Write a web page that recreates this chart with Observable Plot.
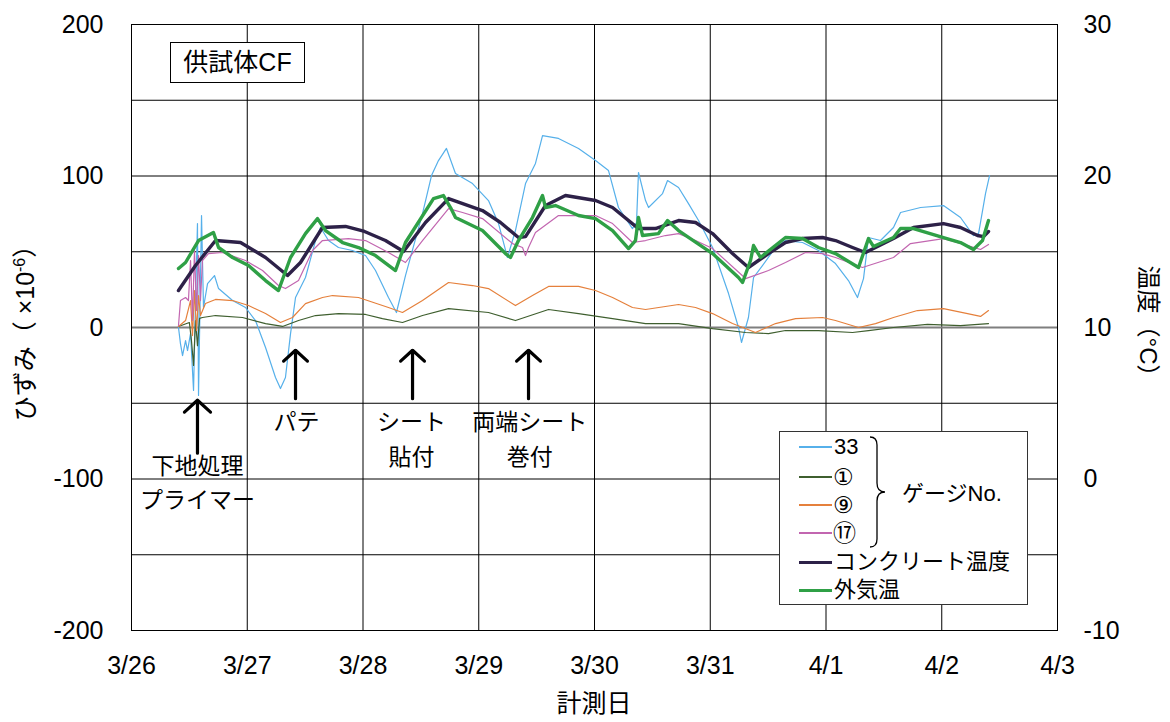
<!DOCTYPE html>
<html><head><meta charset="utf-8">
<script src="https://cdn.jsdelivr.net/npm/d3@7"></script>
<script src="https://cdn.jsdelivr.net/npm/@observablehq/plot@0.6"></script>
<style>
  body{margin:0;background:#fff;}
  #wrap{position:relative;width:1170px;height:722px;font-family:'Liberation Sans','Noto Sans CJK JP',sans-serif;}
  .ov{position:absolute;color:#000;white-space:nowrap;}
</style></head>
<body><div id="wrap"></div>
<script>
// ---- data (x = days since 3/26 0:00) ----
const dayLabels = ["3/26","3/27","3/28","3/29","3/30","3/31","4/1","4/2","4/3"];
const strainTicks = [-200,-100,0,100,200];
const tempTicks = [-10,0,10,20,30];

// strain gauges (×10^-6)
const gauge33 = [[0.406,0],[0.423,-10.6],[0.441,-18.5],[0.467,-8.6],[0.484,-15.2],[0.510,-4.0],[0.536,-41.6],[0.553,17.8],[0.570,68.6],[0.579,-44.9],[0.605,73.9],[0.622,13.2],[0.657,29.0],[0.717,34.3],[0.752,25.7],[0.873,17.8],[0.985,13.2],[1.071,4.6],[1.158,-13.2],[1.244,-33.0],[1.287,-40.3],[1.330,-33.0],[1.374,-4.0],[1.417,19.8],[1.503,33.0],[1.590,57.4],[1.633,66.0],[1.702,57.4],[1.788,52.8],[1.909,50.8],[2.022,47.5],[2.108,37.6],[2.220,19.8],[2.289,9.9],[2.367,34.3],[2.514,75.2],[2.592,100.3],[2.652,110.2],[2.721,118.2],[2.799,101.7],[2.946,95.0],[3.084,83.8],[3.171,68.6],[3.248,46.2],[3.317,64.0],[3.404,95.0],[3.490,108.3],[3.551,126.7],[3.689,124.8],[3.862,118.2],[4.009,110.2],[4.121,103.6],[4.207,79.2],[4.328,65.3],[4.363,69.3],[4.380,102.3],[4.441,83.8],[4.467,79.2],[4.588,88.4],[4.631,97.0],[4.726,92.4],[4.812,81.8],[4.899,70.6],[5.020,52.8],[5.158,22.4],[5.244,0],[5.270,-9.9],[5.330,6.6],[5.374,33.0],[5.451,40.9],[5.564,52.8],[5.650,57.4],[5.797,56.1],[5.935,50.8],[6.082,42.2],[6.194,31.0],[6.272,19.8],[6.324,32.3],[6.367,59.4],[6.471,57.4],[6.583,66.0],[6.644,75.9],[6.817,79.2],[7.015,80.5],[7.162,72.6],[7.274,60.7],[7.318,62.0],[7.378,88.4],[7.413,100.3]];
const gauge1 = [[0.406,0.7],[0.500,3.3],[0.518,-8.6],[0.536,-25.0],[0.553,4.6],[0.570,-12.0],[0.588,6.0],[0.613,6.6],[0.726,7.9],[0.959,6.6],[1.158,2.6],[1.305,0.7],[1.443,4.6],[1.590,7.9],[1.788,9.2],[2.022,8.6],[2.168,5.9],[2.341,3.3],[2.514,7.9],[2.739,12.5],[3.084,9.9],[3.317,4.6],[3.603,11.9],[3.862,9.2],[4.156,5.9],[4.441,2.6],[4.726,2.6],[5.020,-0.7],[5.305,-3.3],[5.503,-4.0],[5.650,-2.0],[5.935,-2.0],[6.229,-3.3],[6.367,-2.0],[6.583,0],[6.877,2.0],[7.162,1.3],[7.404,2.6]];
const gauge9 = [[0.406,0.7],[0.467,4.6],[0.510,17.8],[0.527,-5.3],[0.544,24.4],[0.562,-2.0],[0.579,21.0],[0.596,7.9],[0.639,15.8],[0.726,18.5],[0.873,17.8],[1.011,14.5],[1.158,9.2],[1.287,3.3],[1.391,6.6],[1.503,15.8],[1.650,19.8],[1.737,21.1],[1.961,19.8],[2.220,13.2],[2.341,9.9],[2.514,17.8],[2.739,29.7],[2.946,27.7],[3.084,25.7],[3.317,14.5],[3.464,21.1],[3.603,27.1],[3.862,27.1],[4.009,24.4],[4.156,19.8],[4.328,13.2],[4.441,11.9],[4.726,15.2],[4.873,13.2],[5.020,9.2],[5.192,2.6],[5.391,-3.3],[5.564,2.6],[5.737,5.9],[5.970,6.6],[6.082,4.6],[6.281,0],[6.428,2.6],[6.583,6.6],[6.790,11.2],[7.015,12.5],[7.223,9.2],[7.335,7.3],[7.404,11.2]];
const gauge17 = [[0.406,1.3],[0.423,17.8],[0.467,19.8],[0.492,17.8],[0.510,44.2],[0.527,4.6],[0.544,50.8],[0.562,11.2],[0.579,47.5],[0.596,17.8],[0.613,44.2],[0.665,48.8],[0.786,49.5],[0.985,44.2],[1.132,37.6],[1.270,27.7],[1.330,25.7],[1.443,31.0],[1.564,50.8],[1.650,57.4],[1.875,58.7],[2.022,57.4],[2.220,49.5],[2.367,42.9],[2.514,57.4],[2.739,78.5],[2.860,75.9],[3.032,71.9],[3.292,55.4],[3.378,52.8],[3.404,47.5],[3.430,52.8],[3.490,62.7],[3.689,73.9],[4.009,73.9],[4.156,68.6],[4.328,56.1],[4.441,57.4],[4.613,60.7],[4.726,62.0],[4.873,57.4],[5.020,52.1],[5.305,32.3],[5.503,37.6],[5.650,42.9],[5.823,49.5],[5.970,48.8],[6.082,46.2],[6.315,39.6],[6.583,46.2],[6.730,55.4],[7.015,58.7],[7.223,54.1],[7.335,51.5],[7.404,54.8]];
// temperatures (°C, right axis)
const concreteTemp = [[0.406,12.44],[0.553,14.09],[0.726,15.74],[0.942,15.61],[1.158,14.62],[1.348,13.43],[1.460,14.29],[1.650,16.60],[1.849,16.67],[2.013,16.34],[2.194,15.74],[2.350,15.02],[2.540,16.93],[2.739,18.51],[3.032,17.72],[3.188,16.93],[3.343,15.94],[3.404,16.0],[3.577,18.05],[3.749,18.71],[4.009,18.38],[4.156,17.92],[4.380,16.53],[4.527,16.53],[4.726,17.06],[4.873,16.93],[5.020,16.20],[5.192,14.88],[5.330,13.96],[5.503,14.88],[5.650,15.61],[5.797,15.87],[5.970,15.94],[6.082,15.74],[6.229,15.28],[6.341,14.95],[6.583,15.87],[6.756,16.60],[7.015,16.86],[7.162,16.60],[7.309,16.07],[7.361,16.0],[7.404,16.34]];
const outsideTemp = [[0.406,13.89],[0.467,14.29],[0.579,15.74],[0.708,16.27],[0.752,15.28],[0.873,14.62],[1.011,14.09],[1.158,13.10],[1.270,12.44],[1.374,14.62],[1.503,16.20],[1.607,17.19],[1.676,16.40],[1.823,15.61],[1.961,15.28],[2.108,14.75],[2.281,13.76],[2.367,15.61],[2.609,18.51],[2.695,18.71],[2.756,17.92],[2.799,17.26],[3.032,16.40],[3.231,14.88],[3.274,14.62],[3.343,15.74],[3.464,17.26],[3.551,18.71],[3.577,17.92],[3.663,18.05],[3.862,17.39],[4.009,17.19],[4.156,16.40],[4.294,15.21],[4.354,15.74],[4.380,17.26],[4.415,16.07],[4.553,16.20],[4.631,17.06],[4.726,16.40],[5.020,14.88],[5.244,13.30],[5.279,12.97],[5.348,14.42],[5.374,15.41],[5.434,14.62],[5.650,15.94],[5.797,15.87],[5.935,15.28],[6.082,14.88],[6.281,13.96],[6.367,15.87],[6.410,15.35],[6.583,15.94],[6.644,16.53],[6.756,16.53],[7.015,15.94],[7.162,15.61],[7.274,15.15],[7.352,15.74],[7.404,17.06]];

// annotations (day, strain)
const annotArrows = [{x:0.57,y1:-83,y2:-48},{x:1.417,y1:-47,y2:-15},{x:2.428,y1:-47,y2:-15},{x:3.43,y1:-47,y2:-15}];
const annotLabels = [{x:0.57,y:-92,t:"下地処理"},{x:0.57,y:-114,t:"プライマー"},{x:1.425,y:-62.5,t:"パテ"},{x:2.42,y:-62.5,t:"シート"},{x:2.42,y:-86,t:"貼付"},{x:3.44,y:-62.5,t:"両端シート"},{x:3.44,y:-86,t:"巻付"}];

// ---- series styling ----
const series = [
  {name:"33", data:gauge33, color:"#56B0EA", w:1.2, temp:false, cjk:false},
  {name:"①", data:gauge1, color:"#3F5F2F", w:1.2, temp:false, cjk:true},
  {name:"⑨", data:gauge9, color:"#E5803C", w:1.2, temp:false, cjk:true},
  {name:"⑰", data:gauge17, color:"#C266B0", w:1.2, temp:false, cjk:true},
  {name:"コンクリート温度", data:concreteTemp, color:"#2D2148", w:3.4, temp:true, cjk:false},
  {name:"外気温", data:outsideTemp, color:"#2FA046", w:3.4, temp:true, cjk:false}
];
const toStrain = t => (t - 10) * 10;   // right axis: 30°C ↔ 200, -10°C ↔ -200

const FONT = "'Liberation Sans','Noto Sans CJK JP',sans-serif";

const lineMarks = series.map(s => Plot.line(s.data, {
  x: d => d[0], y: d => s.temp ? toStrain(d[1]) : d[1],
  stroke: s.color, strokeWidth: s.w, strokeLinejoin: "round"
}));

const chart = Plot.plot({
  width: 1170, height: 722,
  marginLeft: 131, marginRight: 113, marginTop: 24, marginBottom: 92,
  style: {fontFamily: FONT, color: "#000", background: "#fff"},
  x: {domain: [0, 8]},
  y: {domain: [-200, 200]},
  marks: [
    Plot.gridY(d3.range(-150, 151, 50).filter(v => v !== 0), {stroke: "#000", strokeOpacity: 1, strokeWidth: 1}),
    Plot.gridX(d3.range(1, 8), {stroke: "#000", strokeOpacity: 1, strokeWidth: 1}),
    Plot.ruleY([0], {stroke: "#7f7f7f", strokeWidth: 2.2}),
    Plot.frame({stroke: "#000", strokeWidth: 1}),
    Plot.axisY({ticks: strainTicks, tickFormat: d => String(d), tickSize: 0, tickPadding: 28, fontSize: 25, label: null}),
    Plot.axisY({anchor: "right", ticks: tempTicks.map(toStrain), tickFormat: d => String(d / 10 + 10), tickSize: 0, tickPadding: 26, fontSize: 25, label: null}),
    Plot.axisX({ticks: d3.range(0, 9), tickFormat: i => dayLabels[i], tickSize: 0, tickPadding: 26, fontSize: 25, label: null}),
    ...lineMarks,
    Plot.arrow(annotArrows, {x1: "x", y1: "y1", x2: "x", y2: "y2", stroke: "#000", strokeWidth: 3.2, headAngle: 95, headLength: 12}),
    Plot.text(annotLabels, {x: "x", y: "y", text: "t", fontSize: 23, fill: "#000"})
  ]
});

const wrap = document.getElementById("wrap");
wrap.appendChild(chart);

// axis titles
const svg = d3.select(chart);
const yt = svg.append("text").attr("transform", "translate(34,327) rotate(-90)")
  .attr("text-anchor", "middle").attr("font-size", 25).attr("font-family", FONT).attr("fill", "#000");
yt.append("tspan").text("ひずみ（ ×10");
yt.append("tspan").attr("dy", -9).attr("font-size", 16).text("-6");
yt.append("tspan").attr("dy", 9).text("）");
svg.append("text").attr("transform", "translate(1140,327) rotate(90)")
  .attr("text-anchor", "middle").attr("font-size", 24).attr("font-family", FONT).attr("fill", "#000")
  .text("温度（°C）");
svg.append("text").attr("x", 594).attr("y", 712).attr("text-anchor", "middle")
  .attr("font-size", 25).attr("font-family", FONT).attr("fill", "#000").text("計測日");

// specimen label
const lab = document.createElement("div");
lab.className = "ov";
lab.style.cssText = "left:170px;top:42px;width:133px;height:39px;border:1.2px solid #000;background:#fff;font-size:25px;line-height:39px;text-align:center;";
lab.textContent = "供試体CF";
wrap.appendChild(lab);

// legend
const leg = document.createElement("div");
leg.className = "ov";
leg.style.cssText = "left:779px;top:431px;width:247px;height:172px;border:1.5px solid #333;background:#fff;";
wrap.appendChild(leg);
const rowsY = [15, 45, 73, 101, 130, 158];
series.forEach((s, i) => {
  const ln = document.createElement("div");
  ln.className = "ov";
  ln.style.cssText = `left:19px;top:${rowsY[i] - (s.temp ? 1.5 : 1)}px;width:33px;height:0;border-top:${s.temp ? 3 : 2}px solid ${s.color};`;
  leg.appendChild(ln);
  const tx = document.createElement("div");
  tx.className = "ov";
  tx.style.cssText = s.cjk
    ? `left:53px;top:${rowsY[i] - 12}px;font-family:'DejaVu Sans','Noto Sans CJK JP',sans-serif;font-size:23px;line-height:24px;height:24px;`
    : `left:54px;top:${rowsY[i] - 13}px;font-size:22px;line-height:26px;`;
  tx.textContent = s.name;
  leg.appendChild(tx);
});
const brace = document.createElementNS("http://www.w3.org/2000/svg", "svg");
brace.setAttribute("width", "30"); brace.setAttribute("height", "120");
brace.style.cssText = "position:absolute;left:87px;top:3px;";
brace.innerHTML = '<path d="M3,2 Q10,2 10,10 L10,48 Q10,57 18,57 Q10,57 10,66 L10,104 Q10,112 3,112" fill="none" stroke="#000" stroke-width="1.3"/>';
leg.appendChild(brace);
const gno = document.createElement("div");
gno.className = "ov";
gno.style.cssText = "left:122px;top:48px;font-size:22px;line-height:28px;";
gno.textContent = "ゲージNo.";
leg.appendChild(gno);
</script>
</body></html>
